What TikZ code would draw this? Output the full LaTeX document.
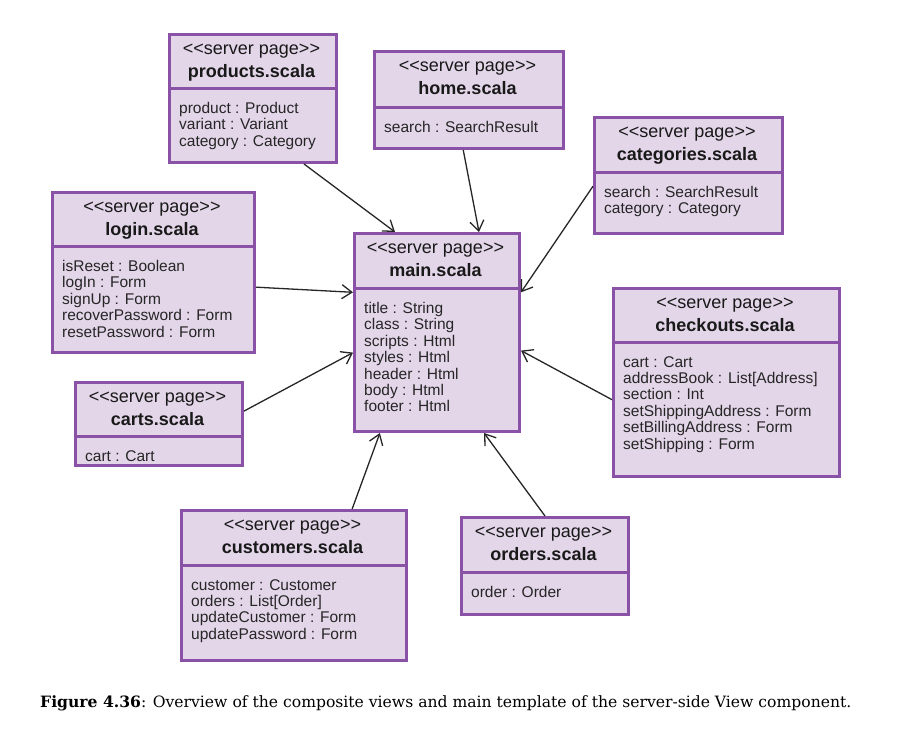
\documentclass[tikz,border=0pt]{standalone}
\usepackage{fontspec}
\newfontfamily\umlfont{Liberation Sans}
\newfontfamily\capfont{DejaVu Serif}
\usetikzlibrary{arrows.meta,calc}

\definecolor{pagefill}{HTML}{E3D6E9}
\definecolor{pageedge}{HTML}{8A52A6}

\tikzset{
  pagebox/.style={draw=pageedge, fill=pagefill, line width=3pt, inner sep=0pt, anchor=north west},
  divider/.style={draw=pageedge, line width=3pt},
  stereo/.style={font=\umlfont\fontsize{18}{20}\selectfont, anchor=base, inner sep=0pt, text=black!90},
  pagename/.style={stereo, font=\umlfont\fontsize{18}{20}\selectfont\bfseries},
  attrs/.style={font=\umlfont\fontsize{15.5}{16.4}\selectfont, align=left, anchor=north west, inner sep=0pt, text=black!85},
  uses/.style={-{Straight Barb[length=10pt,width=14pt]}, line width=1.3pt, draw=black!85}
}

% name, left, top, right, bottom, divider, attributes
\def\serverpage#1#2#3#4#5#6#7{%
  \node[pagebox, minimum width=#4pt-#2pt, minimum height=#5pt-#3pt] (#1) at (#2,#3) {};
  \draw[divider] (#2,#6) -- (#4,#6);
  \node[stereo] (#1-st) at ({(#2+#4)/2},#3+21) {<<server page>>};
  \node[pagename] (#1-nm) at ({(#2+#4)/2},#3+44) {#1.scala};
  \node[attrs] (#1-at) at (#2+11,#6+14) {#7};
}

\begin{document}
\begin{tikzpicture}[x=1pt,y=-1pt]
  \useasboundingbox (0,0) rectangle (904,736);

  \serverpage{products}{168}{33}{335}{161}{88}{product : Product\\variant : Variant\\category : Category}
  \serverpage{home}{373}{50}{562}{147}{107}{search : SearchResult}
  \serverpage{categories}{593}{116}{781}{232}{172}{search : SearchResult\\category : Category}
  \serverpage{login}{51}{191}{253}{351}{246}{isReset : Boolean\\logIn : Form\\signUp : Form\\recoverPassword : Form\\resetPassword : Form}
  \serverpage{main}{353}{232}{518}{430}{288}{title : String\\class : String\\scripts : Html\\styles : Html\\header : Html\\body : Html\\footer : Html}
  \serverpage{checkouts}{612}{287}{838}{475}{342}{cart : Cart\\addressBook : List[Address]\\section : Int\\setShippingAddress : Form\\setBillingAddress : Form\\setShipping : Form}
  \serverpage{carts}{74}{381}{241}{464}{436}{cart : Cart}
  \serverpage{customers}{180}{509}{405}{659}{565}{customer : Customer\\orders : List[Order]\\updateCustomer : Form\\updatePassword : Form}
  \serverpage{orders}{460}{516}{627}{613}{572}{order : Order}

  % every page uses the main template
  \draw[uses] ($(products.south west)!.80!(products.south east)$) -- ($(main.north west)!.25!(main.north east)$);
  \draw[uses] ($(home.south west)!.47!(home.south east)$) -- ($(main.north west)!.75!(main.north east)$);
  \draw[uses] ($(categories.north west)!.59!(categories.south west)$) -- ($(main.north east)!.30!(main.south east)$);
  \draw[uses] ($(login.north east)!.59!(login.south east)$) -- ($(main.north west)!.30!(main.south west)$);
  \draw[uses] ($(carts.north east)!.35!(carts.south east)$) -- ($(main.north west)!.60!(main.south west)$);
  \draw[uses] ($(checkouts.north west)!.59!(checkouts.south west)$) -- ($(main.north east)!.59!(main.south east)$);
  \draw[uses] ($(customers.north west)!.755!(customers.north east)$) -- ($(main.south west)!.16!(main.south east)$);
  \draw[uses] (orders.north) -- ($(main.south west)!.78!(main.south east)$);

  \node[anchor=base west, inner sep=0pt] (caption) at (40,707)
    {\capfont\fontsize{15.6}{18}\selectfont\textbf{Figure 4.36}: Overview of the composite views and main template of the server-side View component.};
\end{tikzpicture}
\end{document}
